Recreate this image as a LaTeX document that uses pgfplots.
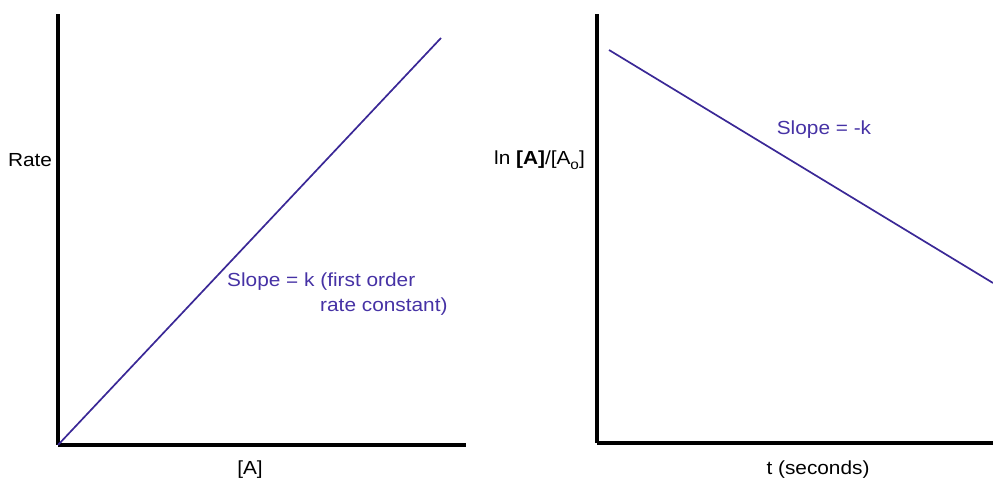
\documentclass[border=0pt]{standalone}
\usepackage{fontspec}
\setmainfont[FakeStretch=1.1]{Liberation Sans}
\usepackage{pgfplots}
\pgfplotsset{compat=1.18}
\definecolor{lineblue}{RGB}{58,40,150}
\definecolor{textblue}{RGB}{70,50,165}
\begin{document}
\begin{tikzpicture}[x=1bp,y=1bp]
\path[use as bounding box] (0,0) rectangle (993,481);
\tikzset{lbl/.style={inner sep=0pt, font=\fontsize{19}{22}\selectfont}}
\pgfplotsset{every axis/.append style={
  scale only axis, anchor=origin,
  axis lines=left, axis line style={-, line width=3.5bp, black},
  xtick=\empty, ytick=\empty,
  clip=false}}
% Left panel
\begin{axis}[at={(58,36)}, width=408bp, height=431bp,
  xmin=0, xmax=408, ymin=0, ymax=431]
\addplot[lineblue, line width=1.7bp] coordinates {(0,0) (383,407)};
\node[lbl, anchor=center] at (axis cs:-28,285) {Rate};
\node[lbl, anchor=center] at (axis cs:192,-25) {[A]};
\node[lbl, anchor=west, text=textblue] at (axis cs:169,163) {Slope = k (first order};
\node[lbl, anchor=west, text=textblue] at (axis cs:262,138) {rate constant)};
\end{axis}
% Right panel
\begin{axis}[at={(597,38)}, width=396bp, height=429bp,
  xmin=0, xmax=396, ymin=0, ymax=429]
\addplot[lineblue, line width=1.7bp] coordinates {(12,393) (396,160)};
\node[lbl, anchor=east] at (axis cs:-12,283) {ln \textbf{[A]}/[A\raisebox{-0.25em}{\fontsize{14}{16}\selectfont o}]};
\node[lbl, anchor=center] at (axis cs:221,-27) {t (seconds)};
\node[lbl, anchor=center, text=textblue] at (axis cs:227,313) {Slope = -k};
\end{axis}
\end{tikzpicture}
\end{document}
